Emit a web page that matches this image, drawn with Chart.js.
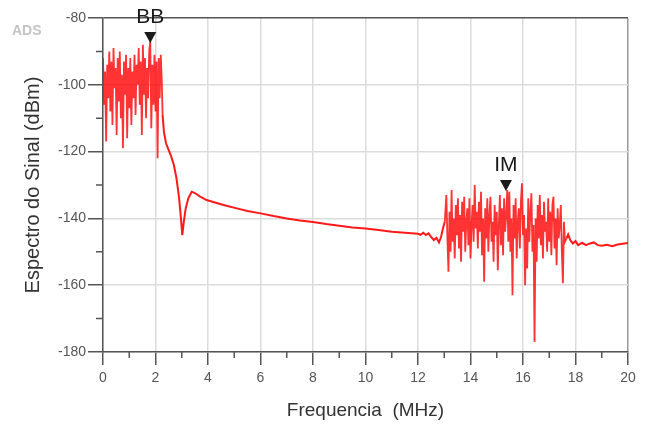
<!DOCTYPE html>
<html>
<head>
<meta charset="utf-8">
<script src="https://cdn.jsdelivr.net/npm/chart.js@4.4.1/dist/chart.umd.min.js"></script>
<style>
  html, body { margin: 0; padding: 0; background: #fff; }
</style>
</head>
<body>
<canvas id="spectrum" width="648" height="425"></canvas>
<script>
// baseband noise, sampled every 0.04 MHz from 0 MHz
const bbStart = 0;
const bbStep = 0.04;
const bbLevel = [
  -92, -106, -96, -117, -94, -104, -90, -108, -93, -112,
  -89, -101, -95, -115, -92, -105, -90, -110, -97, -119,
  -93, -103, -91, -116, -95, -107, -92, -112, -96, -104,
  -91, -109, -94, -100, -89, -106, -93, -115, -88, -103,
  -92, -110, -95, -104, -90, -87, -113, -94, -106, -91,
  -108, -93, -122, -92, -104, -91, -99
];

// roll-off and floor between the two bands
const slopeFreq = [
  2.27, 2.32, 2.4, 2.5, 2.6, 2.7, 2.8, 2.9, 2.97, 3.02,
  3.08, 3.15, 3.25, 3.38, 3.5, 3.7, 3.95, 4.3, 4.7, 5.1,
  5.5, 6.0, 6.5, 7.0, 7.5, 8.0, 8.5, 9.0, 9.5, 10.0,
  10.5, 11.0, 11.5, 12.0, 12.1, 12.2, 12.3, 12.4, 12.5, 12.6,
  12.7, 12.8, 12.88, 12.95, 13.02
];
const slopeLevel = [
  -109, -114, -117.5, -119.5, -121.5, -124, -128, -134, -140, -145,
  -141, -137, -134, -132, -132.4, -133.5, -134.5, -135.3, -136.2, -137,
  -137.8, -138.5, -139.3, -140, -140.6, -141.1, -141.7, -142.2, -142.7, -143,
  -143.5, -144, -144.3, -144.6, -144.9, -144.3, -145, -144.5, -145.5, -146.5,
  -145.8, -147.2, -145.5, -143, -141
];

// intermodulation band, sampled every 0.04 MHz from 13.08 MHz
const imStart = 13.08;
const imStep = 0.04;
const imLevel = [
  -133, -146, -156, -138, -150, -131.5, -147, -140, -152, -136,
  -145, -134, -149, -139, -153, -135, -144, -133.5, -150, -141,
  -137, -148, -134, -152, -142, -136, -147, -130, -143, -138,
  -149, -135, -144, -132, -151, -140, -159, -137, -146, -134,
  -150, -139, -133.5, -147, -141, -153, -136, -145, -138, -155.5,
  -142, -133, -148, -137, -151, -134, -144, -139, -131.5, -147,
  -132, -150, -140, -163, -136, -146, -134, -152, -141, -137,
  -149, -135, -129.5, -145, -139, -160, -143, -155, -134, -147,
  -138, -132.5, -150, -142, -177, -140, -153, -136, -146, -133,
  -148, -139, -152, -135, -144, -141, -150, -134, -147, -138,
  -151, -136, -133.5, -149, -140, -154, -137, -146, -142, -136,
  -150, -159.4, -141, -147
];

const tailFreq = [17.66, 17.72, 17.8, 17.9, 18.0, 18.1, 18.25, 18.4, 18.55, 18.7, 18.85, 19.0, 19.2, 19.4, 19.6, 19.8, 20.0];
const tailLevel = [-146, -144.8, -146.5, -147.5, -146.8, -148, -147.3, -148, -147.5, -147.2, -148, -148.2, -147.9, -148.3, -147.8, -147.6, -147.4];

// markers
const markerLabels = ['BB', 'IM'];
const markerFreq = [1.8, 15.35];
const markerLevel = [-87.5, -131.8];

const xTicks = [0, 2, 4, 6, 8, 10, 12, 14, 16, 18, 20];
const yTicks = [-180, -160, -140, -120, -100, -80];

const FONT = "'Liberation Sans', Arial, sans-serif";

const points = [];
bbLevel.forEach((v, i) => points.push({ x: bbStart + i * bbStep, y: v }));
slopeFreq.forEach((f, i) => points.push({ x: f, y: slopeLevel[i] }));
imLevel.forEach((v, i) => points.push({ x: imStart + i * imStep, y: v }));
tailFreq.forEach((f, i) => points.push({ x: f, y: tailLevel[i] }));

// smooth parts of the trace are drawn a bit heavier than the noisy bands
function isSmooth(c) {
  const a = c.p0.parsed.x, b = c.p1.parsed.x;
  return (a >= 2.25 && b <= 13.03) || a >= 17.62;
}

const overlay = {
  id: 'overlay',
  afterDraw(chart) {
    const { ctx, chartArea } = chart;
    const x = chart.scales.x;
    const y = chart.scales.y;
    ctx.save();

    // minor ticks
    ctx.strokeStyle = '#555';
    ctx.lineWidth = 1.5;
    ctx.beginPath();
    for (let f = 1; f < 20; f += 2) {
      const px = x.getPixelForValue(f);
      ctx.moveTo(px, chartArea.bottom);
      ctx.lineTo(px, chartArea.bottom + 6);
    }
    for (let v = -170; v < -80; v += 20) {
      const py = y.getPixelForValue(v);
      ctx.moveTo(chartArea.left, py);
      ctx.lineTo(chartArea.left - 7, py);
    }
    ctx.stroke();

    // markers
    ctx.fillStyle = '#1a1a1a';
    ctx.font = '21px ' + FONT;
    ctx.textAlign = 'center';
    ctx.textBaseline = 'alphabetic';
    markerLabels.forEach((label, i) => {
      const px = x.getPixelForValue(markerFreq[i]);
      const py = y.getPixelForValue(markerLevel[i]);
      ctx.beginPath();
      ctx.moveTo(px, py);
      ctx.lineTo(px - 6, py - 11);
      ctx.lineTo(px + 6, py - 11);
      ctx.closePath();
      ctx.fill();
      ctx.fillText(label, px, py - 20);
    });

    // ADS tag
    ctx.fillStyle = '#c4c4c4';
    ctx.font = 'bold 14px ' + FONT;
    ctx.textAlign = 'left';
    ctx.textBaseline = 'middle';
    ctx.fillText('ADS', 12, 31);

    ctx.restore();
  }
};

new Chart(document.getElementById('spectrum'), {
  type: 'line',
  data: {
    datasets: [{
      data: points,
      borderColor: 'rgba(255, 0, 0, 0.85)',
      borderWidth: 1.8,
      segment: {
        borderWidth: c => isSmooth(c) ? 2 : 1.8,
        borderColor: c => isSmooth(c) ? 'rgba(255, 0, 0, 0.9)' : 'rgba(255, 0, 0, 0.8)'
      },
      pointRadius: 0,
      tension: 0,
      fill: false
    }]
  },
  options: {
    responsive: false,
    animation: false,
    events: [],
    layout: { padding: { top: 18, right: 20, left: 0, bottom: 0 } },
    scales: {
      x: {
        type: 'linear',
        min: 0,
        max: 20,
        afterBuildTicks: s => { s.ticks = xTicks.map(v => ({ value: v })); },
        afterFit: s => { s.height = 73; },
        ticks: {
          color: '#555',
          font: { size: 14, family: FONT },
          padding: 5,
          maxRotation: 0
        },
        grid: {
          color: c => c.tick && c.tick.value === 20 ? '#999' : '#dcdcdc',
          lineWidth: 1.5,
          tickLength: 13,
          tickColor: '#555'
        },
        border: { color: '#555', width: 1.5 },
        title: {
          display: true,
          text: 'Frequencia  (MHz)',
          color: '#333',
          font: { size: 19, family: FONT },
          padding: { top: 0, bottom: 3 }
        }
      },
      y: {
        min: -180,
        max: -80,
        afterBuildTicks: s => { s.ticks = yTicks.map(v => ({ value: v })); },
        afterFit: s => { s.width = 103; },
        ticks: {
          color: '#555',
          font: { size: 14, family: FONT },
          padding: 2
        },
        grid: {
          color: c => c.tick && c.tick.value === -80 ? '#555' : '#dcdcdc',
          lineWidth: 1.5,
          tickLength: 15,
          tickColor: '#555'
        },
        border: { color: '#555', width: 1.5 },
        title: {
          display: true,
          text: 'Espectro do Sinal (dBm)',
          color: '#333',
          font: { size: 20, family: FONT },
          padding: { top: 21, bottom: 0 }
        }
      }
    },
    plugins: {
      legend: { display: false },
      tooltip: { enabled: false }
    }
  },
  plugins: [overlay]
});
</script>
</body>
</html>
